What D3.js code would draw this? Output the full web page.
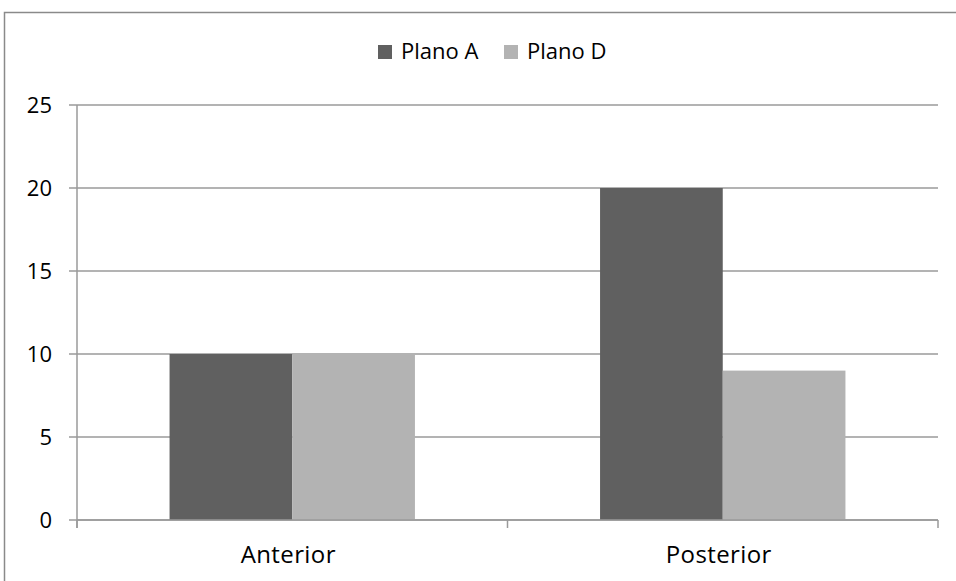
<!DOCTYPE html>
<html><head><meta charset="utf-8">
<script src="https://cdn.jsdelivr.net/npm/d3@7"></script>
<style>body{margin:0;background:#fff}svg{display:block}text{font-family:"Open Sans",sans-serif;fill:#000}</style>
</head><body>
<svg id="c" width="956" height="581"></svg>
<script>
const categories = ["Anterior", "Posterior"];
const seriesNames = ["Plano A", "Plano D"];
const planoA = [10, 20];
const planoD = [10, 9];
const yTicks = [0, 5, 10, 15, 20, 25];
const colors = ["#606060", "#b3b3b3"];

const svg = d3.select("#c");
const L = 77, R = 938, T = 105, B = 520;

svg.append("rect").attr("x", 4.5).attr("y", 12.5).attr("width", 960).attr("height", 600)
  .attr("fill", "none").attr("stroke", "#8a8a8a").attr("stroke-width", 1.5);

const y = d3.scaleLinear().domain([0, 25]).range([B, T]);
const x = d3.scaleBand().domain(categories).range([L, R]).paddingInner(0.43).paddingOuter(0.215);
const xs = d3.scaleBand().domain(seriesNames).range([0, x.bandwidth()]);
const xb = d3.scaleBand().domain(categories).range([L, R]);

// grid
svg.append("g").selectAll("line").data(yTicks).join("line")
  .attr("x1", L - 8).attr("x2", R).attr("y1", d => y(d)).attr("y2", d => y(d))
  .attr("stroke", "#9a9a9a").attr("stroke-width", 1.5);

// bars
const data = [planoA, planoD];
seriesNames.forEach((s, si) => {
  svg.append("g").selectAll("rect").data(categories).join("rect")
    .attr("x", c => x(c) + xs(s)).attr("width", xs.bandwidth())
    .attr("y", (c, i) => y(data[si][i])).attr("height", (c, i) => B - y(data[si][i]))
    .attr("fill", colors[si]);
});

// axes
svg.append("line").attr("x1", L).attr("x2", L).attr("y1", T).attr("y2", B + 8)
  .attr("stroke", "#9a9a9a").attr("stroke-width", 1.5);
svg.append("line").attr("x1", L).attr("x2", R).attr("y1", B).attr("y2", B)
  .attr("stroke", "#9a9a9a").attr("stroke-width", 1.5);
const xt = [L].concat(categories.map(c => xb(c) + xb.bandwidth()));
svg.append("g").selectAll("line").data(xt).join("line")
  .attr("x1", d => d).attr("x2", d => d).attr("y1", B).attr("y2", B + 8)
  .attr("stroke", "#9a9a9a").attr("stroke-width", 1.5);

svg.append("g").selectAll("text").data(yTicks).join("text")
  .attr("x", 52).attr("y", d => y(d) + 8).attr("text-anchor", "end")
  .attr("font-size", 22).text(d => d);

svg.append("g").selectAll("text").data(categories).join("text")
  .attr("x", c => xb(c) + xb.bandwidth() / 2 - 4).attr("y", 563)
  .attr("text-anchor", "middle").attr("font-size", 24).attr("letter-spacing", 0.4).text(c => c);

// legend
const lx = [378, 504];
seriesNames.forEach((s, i) => {
  svg.append("rect").attr("x", lx[i]).attr("y", 45).attr("width", 14).attr("height", 14).attr("fill", colors[i]);
  svg.append("text").attr("x", lx[i] + 23).attr("y", 59).attr("font-size", 22).text(s);
});
</script>
</body></html>
